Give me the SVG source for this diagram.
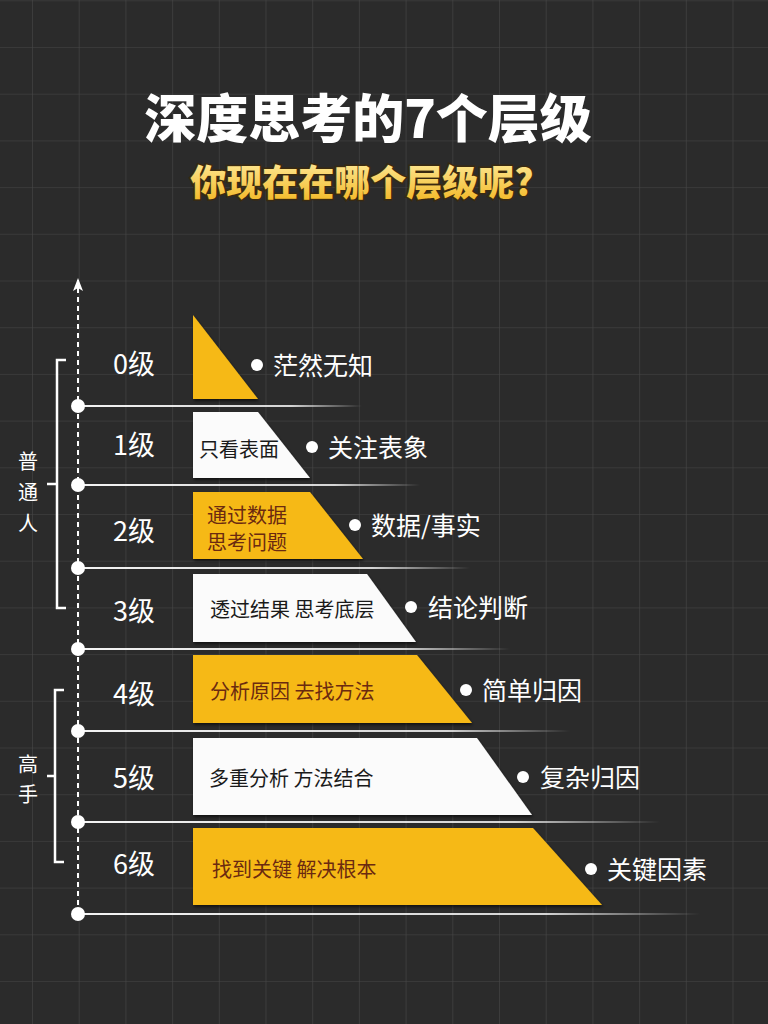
<svg xmlns="http://www.w3.org/2000/svg" width="768" height="1024" viewBox="0 0 768 1024">
<defs>
<pattern id="grid" x="32" y="47" width="46.7" height="46.7" patternUnits="userSpaceOnUse">
<path d="M0 0 V46.7 M0 0 H46.7" stroke="#474747" stroke-width="1.2" fill="none"/>
</pattern>
<linearGradient id="fade" x1="0" y1="0" x2="1" y2="0">
<stop offset="0" stop-color="#ffffff" stop-opacity="0.95"/>
<stop offset="0.75" stop-color="#ffffff" stop-opacity="0.8"/>
<stop offset="1" stop-color="#ffffff" stop-opacity="0"/>
</linearGradient>
<linearGradient id="subg" x1="0" y1="0" x2="0" y2="1">
<stop offset="0" stop-color="#fff0a8"/>
<stop offset="1" stop-color="#f2b41c"/>
</linearGradient>
<marker id="arrow" viewBox="0 0 13 10" refX="11" refY="5" markerWidth="13" markerHeight="10" orient="auto" markerUnits="userSpaceOnUse">
<path d="M13 5 L0 0 L3 5 L0 10 Z" fill="#ffffff"/>
</marker>
<filter id="sh" x="-5%" y="-5%" width="115%" height="120%">
<feDropShadow dx="1" dy="2" stdDeviation="1.5" flood-color="#000" flood-opacity="0.6"/>
</filter>
</defs>
<style>
.cjk{font-family:"Noto Sans CJK SC","Noto Sans",sans-serif;}
.title{font-size:52px;font-weight:900;fill:#ffffff;}
.sub{font-size:36px;font-weight:900;fill:url(#subg);stroke:#3a2a10;stroke-width:3;paint-order:stroke;}
.lvl{font-size:27px;fill:#ffffff;}
.lab{font-size:25px;fill:#ffffff;}
.grp{font-size:20px;fill:#ffffff;}
.inb{font-size:20px;fill:#1a1a1a;}
.inr{font-size:20px;fill:#6b2a10;}
.yel{fill:#f6b917;filter:url(#sh);}
.wht{fill:#fbfbfb;filter:url(#sh);}
.dot{fill:#ffffff;}
.hl{stroke:url(#fade);stroke-width:2;fill:none;}
.br{stroke:#ffffff;stroke-width:2.5;fill:none;}
</style>
<rect width="768" height="1024" fill="#2b2b2b"/>
<rect width="768" height="1024" fill="url(#grid)"/>

<g id="title">
<text class="cjk title" x="368" y="115" text-anchor="middle" dominant-baseline="central">深度思考的7个层级</text>
<text class="cjk sub" x="362" y="180" text-anchor="middle" dominant-baseline="central">你现在在哪个层级呢?</text>
</g>

<g id="connectors">
<line x1="78" y1="914" x2="78" y2="280" stroke="#ffffff" stroke-width="2" stroke-dasharray="5 4" marker-end="url(#arrow)"/>
<line class="hl" x1="78" y1="406" x2="362" y2="406.01"/>
<line class="hl" x1="78" y1="485" x2="420" y2="485.01"/>
<line class="hl" x1="78" y1="568" x2="470" y2="568.01"/>
<line class="hl" x1="78" y1="649" x2="510" y2="649.01"/>
<line class="hl" x1="78" y1="731" x2="570" y2="731.01"/>
<line class="hl" x1="78" y1="822" x2="660" y2="822.01"/>
<line class="hl" x1="78" y1="914" x2="700" y2="914.01"/>
<circle class="dot" cx="78" cy="406" r="7"/>
<circle class="dot" cx="78" cy="485" r="7"/>
<circle class="dot" cx="78" cy="568" r="7"/>
<circle class="dot" cx="78" cy="649" r="7"/>
<circle class="dot" cx="78" cy="731" r="7"/>
<circle class="dot" cx="78" cy="822" r="7"/>
<circle class="dot" cx="78" cy="914" r="7"/>
</g>

<g id="group-normal">
<path class="br" d="M66 360 H57 V608 H66 M57 484 H47"/>
<text class="cjk grp" x="28" y="460" text-anchor="middle" dominant-baseline="central">普</text>
<text class="cjk grp" x="28" y="491" text-anchor="middle" dominant-baseline="central">通</text>
<text class="cjk grp" x="28" y="522" text-anchor="middle" dominant-baseline="central">人</text>
</g>

<g id="group-expert">
<path class="br" d="M64 690 H55 V862 H64 M55 776 H47"/>
<text class="cjk grp" x="28" y="763" text-anchor="middle" dominant-baseline="central">高</text>
<text class="cjk grp" x="28" y="793" text-anchor="middle" dominant-baseline="central">手</text>
</g>

<g id="level0">
<text class="cjk lvl" x="134" y="362" text-anchor="middle" dominant-baseline="central">0级</text>
<polygon class="yel" points="193,315 258,399 193,399"/>
<circle class="dot" cx="257" cy="365" r="6"/>
<text class="cjk lab" x="273" y="364" dominant-baseline="central">茫然无知</text>
</g>

<g id="level1">
<text class="cjk lvl" x="134" y="443" text-anchor="middle" dominant-baseline="central">1级</text>
<polygon class="wht" points="193,412 258,412 310,478 193,478"/>
<text class="cjk inb" x="199" y="448" dominant-baseline="central">只看表面</text>
<circle class="dot" cx="312" cy="447" r="6"/>
<text class="cjk lab" x="328" y="446" dominant-baseline="central">关注表象</text>
</g>

<g id="level2">
<text class="cjk lvl" x="134" y="529" text-anchor="middle" dominant-baseline="central">2级</text>
<polygon class="yel" points="193,492 310,492 363,559 193,559"/>
<text class="cjk inr" x="207" y="514" dominant-baseline="central">通过数据</text>
<text class="cjk inr" x="207" y="541" dominant-baseline="central">思考问题</text>
<circle class="dot" cx="355" cy="525" r="6"/>
<text class="cjk lab" x="371" y="524" dominant-baseline="central">数据/事实</text>
</g>

<g id="level3">
<text class="cjk lvl" x="134" y="609" text-anchor="middle" dominant-baseline="central">3级</text>
<polygon class="wht" points="193,574 367,574 416,642 193,642"/>
<text class="cjk inb" x="210" y="608" dominant-baseline="central">透过结果 思考底层</text>
<circle class="dot" cx="411" cy="607" r="6"/>
<text class="cjk lab" x="428" y="606" dominant-baseline="central">结论判断</text>
</g>

<g id="level4">
<text class="cjk lvl" x="134" y="692" text-anchor="middle" dominant-baseline="central">4级</text>
<polygon class="yel" points="193,655 417,655 472,723 193,723"/>
<text class="cjk inr" x="210" y="690" dominant-baseline="central">分析原因 去找方法</text>
<circle class="dot" cx="466" cy="690" r="6"/>
<text class="cjk lab" x="482" y="689" dominant-baseline="central">简单归因</text>
</g>

<g id="level5">
<text class="cjk lvl" x="134" y="776" text-anchor="middle" dominant-baseline="central">5级</text>
<polygon class="wht" points="193,738 477,738 532,815 193,815"/>
<text class="cjk inb" x="209" y="777" dominant-baseline="central">多重分析 方法结合</text>
<circle class="dot" cx="523" cy="777" r="6"/>
<text class="cjk lab" x="540" y="776" dominant-baseline="central">复杂归因</text>
</g>

<g id="level6">
<text class="cjk lvl" x="134" y="862" text-anchor="middle" dominant-baseline="central">6级</text>
<polygon class="yel" points="193,828 533,828 602,905 193,905"/>
<text class="cjk inr" x="212" y="868" dominant-baseline="central">找到关键 解决根本</text>
<circle class="dot" cx="591" cy="869" r="6"/>
<text class="cjk lab" x="607" y="868" dominant-baseline="central">关键因素</text>
</g>
</svg>
